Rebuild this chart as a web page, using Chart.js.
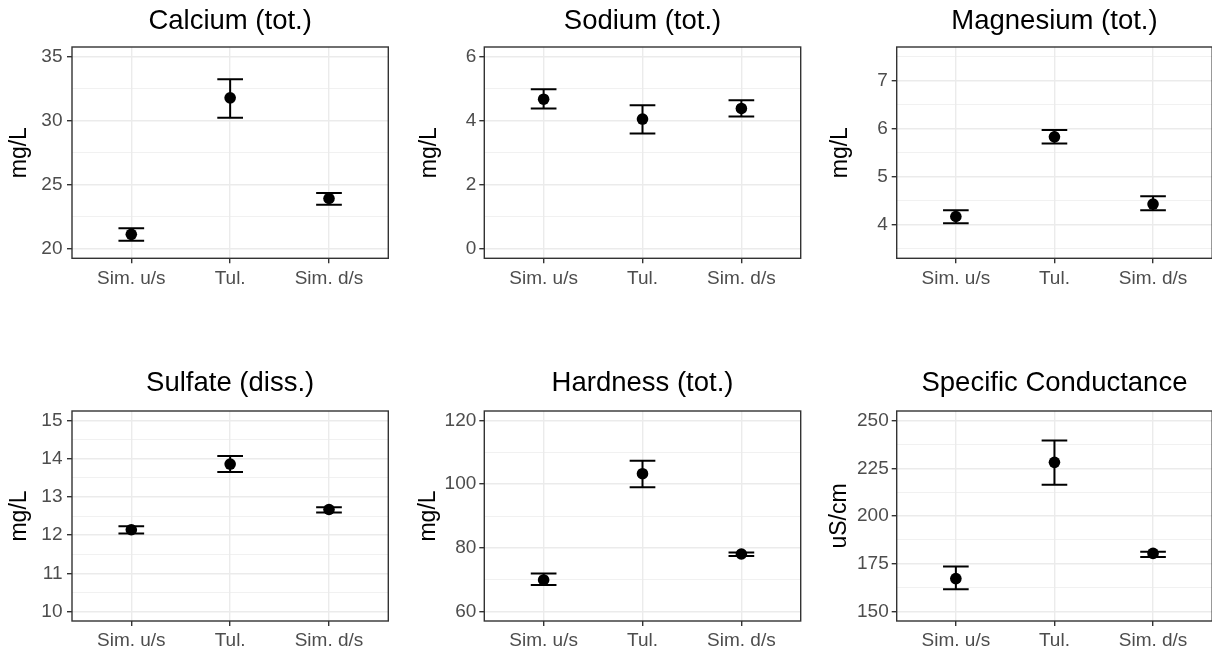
<!DOCTYPE html>
<html>
<head>
<meta charset="utf-8">
<script src="https://cdn.jsdelivr.net/npm/chart.js@4"></script>
<style>
html, body { margin:0; padding:0; background:#ffffff; overflow:hidden; width:1212px; height:656px; position:relative; }
canvas { position:absolute; }
</style>
</head>
<body>
<canvas id="p1" width="404" height="300" style="left:0px;top:0px"></canvas>
<canvas id="p2" width="404" height="300" style="left:404px;top:0px"></canvas>
<canvas id="p3" width="410" height="300" style="left:808px;top:0px"></canvas>
<canvas id="p4" width="404" height="316" style="left:0px;top:340px"></canvas>
<canvas id="p5" width="404" height="316" style="left:404px;top:340px"></canvas>
<canvas id="p6" width="410" height="316" style="left:808px;top:340px"></canvas>
<script>
// ---------- data ----------
const categories = ["Sim. u/s", "Tul.", "Sim. d/s"];

const calciumMean = [21.12, 31.78, 23.92];
const calciumLow  = [20.62, 30.23, 23.43];
const calciumHigh = [21.59, 33.23, 24.34];
const calciumTicks = [20, 25, 30, 35];
const calciumMinor = [22.5, 27.5, 32.5];
const calciumRange = [19.25, 35.75];

const sodiumMean = [4.67, 4.05, 4.38];
const sodiumLow  = [4.38, 3.60, 4.13];
const sodiumHigh = [4.98, 4.48, 4.64];
const sodiumTicks = [0, 2, 4, 6];
const sodiumMinor = [1, 3, 5];
const sodiumRange = [-0.3, 6.3];

const magnesiumMean = [4.17, 5.83, 4.43];
const magnesiumLow  = [4.03, 5.69, 4.30];
const magnesiumHigh = [4.30, 5.97, 4.59];
const magnesiumTicks = [4, 5, 6, 7];
const magnesiumMinor = [3.5, 4.5, 5.5, 6.5, 7.5];
const magnesiumRange = [3.3, 7.7];

const sulfateMean = [12.14, 13.86, 12.67];
const sulfateLow  = [12.04, 13.65, 12.59];
const sulfateHigh = [12.23, 14.07, 12.73];
const sulfateTicks = [10, 11, 12, 13, 14, 15];
const sulfateMinor = [10.5, 11.5, 12.5, 13.5, 14.5];
const sulfateRange = [9.75, 15.25];

const hardnessMean = [69.9, 103.3, 78.05];
const hardnessLow  = [68.3, 99.0, 77.4];
const hardnessHigh = [71.9, 107.4, 78.5];
const hardnessTicks = [60, 80, 100, 120];
const hardnessMinor = [70, 90, 110];
const hardnessRange = [57, 123];

const conductanceMean = [167.2, 228.1, 180.4];
const conductanceLow  = [161.6, 216.4, 178.5];
const conductanceHigh = [173.6, 239.6, 181.3];
const conductanceTicks = [150, 175, 200, 225, 250];
const conductanceMinor = [162.5, 187.5, 212.5, 237.5];
const conductanceRange = [145, 255];

const xRange = [0.4, 3.6];
const xTicks = [1, 2, 3];

// ---------- styling / layout ----------
const FONT = "'Liberation Sans', Arial, Helvetica, sans-serif";
Chart.defaults.font.family = FONT;
const CAP_HALF = 0.13;

const topRow = { titlePad: { top: 4.6, bottom: 9.4 }, xHeight: 41.7, xTickPad: 3.6 };
const botRow = { titlePad: { top: 27.1, bottom: 10.9 }, xHeight: 35, xTickPad: 3.6 };

const panelBorder = {
  id: 'panelBorder',
  afterDraw(chart) {
    const { ctx, chartArea: a } = chart;
    ctx.save();
    ctx.strokeStyle = '#333333';
    ctx.lineWidth = 1.4;
    ctx.strokeRect(a.left, a.top, a.right - a.left, a.bottom - a.top);
    ctx.restore();
  }
};

function errorBarData(low, high) {
  const pts = [];
  for (let i = 0; i < categories.length; i++) {
    const x = xTicks[i];
    pts.push({ x: x - CAP_HALF, y: high[i] }, { x: x + CAP_HALF, y: high[i] }, { x: x, y: null });
    pts.push({ x: x, y: high[i] }, { x: x, y: low[i] }, { x: x, y: null });
    pts.push({ x: x - CAP_HALF, y: low[i] }, { x: x + CAP_HALF, y: low[i] }, { x: x, y: null });
  }
  return pts;
}

function makePanel(id, title, unit, mean, low, high, majors, minors, range, row, lay) {
  const allTicks = majors.concat(minors).sort((a, b) => a - b);
  const isMajor = c => c.tick && majors.includes(c.tick.value);
  new Chart(document.getElementById(id), {
    data: {
      datasets: [
        {
          type: 'scatter',
          data: categories.map((c, i) => ({ x: xTicks[i], y: mean[i] })),
          pointRadius: 5.8,
          pointBackgroundColor: '#000000',
          pointBorderWidth: 0,
          pointHoverRadius: 5.8
        },
        {
          type: 'scatter',
          showLine: true,
          spanGaps: false,
          data: errorBarData(low, high),
          borderColor: '#000000',
          borderWidth: 2,
          pointRadius: 0,
          pointHoverRadius: 0,
          tension: 0,
          fill: false
        }
      ]
    },
    options: {
      responsive: false,
      animation: false,
      events: [],
      layout: { padding: { left: 0, top: 0, right: lay.padRight, bottom: 0 } },
      plugins: {
        legend: { display: false },
        tooltip: { enabled: false },
        title: {
          display: true,
          text: title,
          fullSize: false,
          color: '#000000',
          font: { family: FONT, size: 27.5, weight: 'normal', lineHeight: 1.2 },
          padding: row.titlePad
        }
      },
      scales: {
        x: {
          type: 'linear',
          min: xRange[0],
          max: xRange[1],
          afterBuildTicks: s => { s.ticks = xTicks.map(v => ({ value: v })); },
          afterFit: s => { s.height = row.xHeight; },
          ticks: {
            callback: v => categories[xTicks.indexOf(v)],
            autoSkip: false,
            maxRotation: 0,
            minRotation: 0,
            color: '#4D4D4D',
            font: { family: FONT, size: 19, lineHeight: 1.2 },
            padding: row.xTickPad
          },
          grid: {
            color: '#EBEBEB',
            lineWidth: 1.4,
            tickColor: '#333333',
            tickLength: 5,
            tickWidth: 1.4,
            drawTicks: true
          },
          border: { display: false }
        },
        y: {
          type: 'linear',
          min: range[0],
          max: range[1],
          afterBuildTicks: s => { s.ticks = allTicks.map(v => ({ value: v })); },
          afterFit: s => { s.width = lay.yWidth; },
          ticks: {
            callback: v => (majors.includes(v) ? String(v) : ''),
            autoSkip: false,
            color: '#4D4D4D',
            font: { family: FONT, size: 19, lineHeight: 1.2 },
            padding: lay.yTickPad
          },
          grid: {
            color: '#EBEBEB',
            lineWidth: c => (isMajor(c) ? 1.4 : 0.7),
            tickColor: c => (isMajor(c) ? '#333333' : 'rgba(0,0,0,0)'),
            tickWidth: 1.4,
            tickLength: 5,
            drawTicks: true
          },
          border: { display: false },
          title: {
            display: true,
            text: unit,
            color: '#000000',
            font: { family: FONT, size: 23, lineHeight: 1.2 },
            padding: { top: lay.yTitlePad, bottom: 0 }
          }
        }
      }
    },
    plugins: [panelBorder]
  });
}

makePanel('p1', 'Calcium (tot.)', 'mg/L', calciumMean, calciumLow, calciumHigh, calciumTicks, calciumMinor, calciumRange, topRow,
  { yWidth: 72, padRight: 15.7, yTitlePad: 6, yTickPad: 4.5 });
makePanel('p2', 'Sodium (tot.)', 'mg/L', sodiumMean, sodiumLow, sodiumHigh, sodiumTicks, sodiumMinor, sodiumRange, topRow,
  { yWidth: 80.3, padRight: 7.3, yTitlePad: 11.5, yTickPad: 3 });
makePanel('p3', 'Magnesium (tot.)', 'mg/L', magnesiumMean, magnesiumLow, magnesiumHigh, magnesiumTicks, magnesiumMinor, magnesiumRange, topRow,
  { yWidth: 88.7, padRight: 5.3, yTitlePad: 19, yTickPad: 4 });
makePanel('p4', 'Sulfate (diss.)', 'mg/L', sulfateMean, sulfateLow, sulfateHigh, sulfateTicks, sulfateMinor, sulfateRange, botRow,
  { yWidth: 72, padRight: 15.7, yTitlePad: 6, yTickPad: 4.5 });
makePanel('p5', 'Hardness (tot.)', 'mg/L', hardnessMean, hardnessLow, hardnessHigh, hardnessTicks, hardnessMinor, hardnessRange, botRow,
  { yWidth: 80.3, padRight: 7.3, yTitlePad: 11, yTickPad: 3 });
makePanel('p6', 'Specific Conductance', 'uS/cm', conductanceMean, conductanceLow, conductanceHigh, conductanceTicks, conductanceMinor, conductanceRange, botRow,
  { yWidth: 88.7, padRight: 5.3, yTitlePad: 18, yTickPad: 3 });
</script>
</body>
</html>
